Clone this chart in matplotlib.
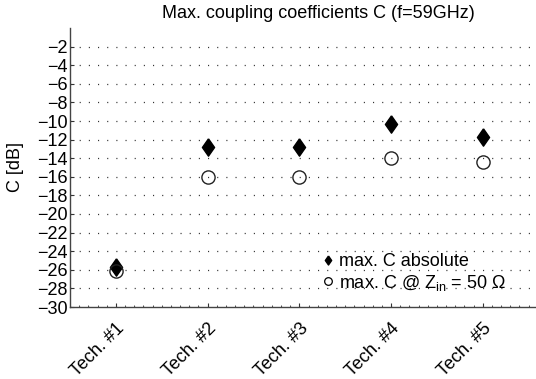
import matplotlib
matplotlib.use("Agg")
import matplotlib.pyplot as plt
from matplotlib.ticker import MultipleLocator
from matplotlib.lines import Line2D

plt.rcParams['font.family'] = ['Liberation Sans', 'DejaVu Sans']
plt.rcParams['mathtext.fontset'] = 'custom'
plt.rcParams['mathtext.rm'] = 'Liberation Sans'
plt.rcParams['mathtext.it'] = 'Liberation Sans'
plt.rcParams['lines.scale_dashes'] = False

categories = ["Tech. #1", "Tech. #2", "Tech. #3", "Tech. #4", "Tech. #5"]
c_absolute = [-25.7, -12.8, -12.8, -10.3, -11.7]
c_50ohm = [-26.1, -16.0, -16.0, -14.0, -14.4]
yticks = list(range(-30, -1, 2))

W, H = 536, 379
FS = 13
fig = plt.figure(figsize=(W / 100, H / 100), dpi=100)
ax_w = 1 - 70 / W
ax = fig.add_axes([70 / W, (H - 307) / H, ax_w, (307 - 28) / H])

x = list(range(1, len(categories) + 1))
diamond = [(0, 1), (0.7, 0), (0, -1), (-0.7, 0), (0, 1)]
ax.plot(x, c_absolute, linestyle='none', marker=diamond, markersize=12.5,
        color='black', zorder=3)
ax.plot(x, c_50ohm, linestyle='none', marker='o', markersize=9.5,
        markerfacecolor='none', markeredgecolor='#222222', markeredgewidth=1.0,
        zorder=3)

ax.set_xlim(0.5, 5.58)
ax.set_ylim(-30, 0)
ax.set_yticks(yticks)
ax.set_yticklabels([f"\u2212{abs(v)}" for v in yticks], fontsize=FS)
ax.set_xticks(x)
ax.set_xticklabels(categories, rotation=45, ha='right', rotation_mode='anchor',
                   fontsize=FS)
ax.xaxis.set_minor_locator(MultipleLocator(0.1))
ax.tick_params(axis='x', which='major', direction='in', length=3, width=0.8,
               pad=9, color='#333333')
ax.tick_params(axis='x', which='minor', direction='in', length=1.5, width=0.6,
               color='#333333')
ax.tick_params(axis='y', which='major', direction='in', length=3, width=0.8,
               pad=1.5, color='#333333')

ax.grid(True, axis='y', linestyle=(0, (0.8, 5.8)), linewidth=0.9, color='#333333')
ax.set_axisbelow(True)

for s in ['top', 'right']:
    ax.spines[s].set_visible(False)
for s in ['left', 'bottom']:
    ax.spines[s].set_linewidth(1.0)
    ax.spines[s].set_color('#444444')

ax.set_ylabel("C [dB]", fontsize=FS)
ax.yaxis.set_label_coords((24 - 70) / (ax_w * W), 0.5)

fig.text(318 / W, 1 - 13 / H, "Max. coupling coefficients C (f=59GHz)",
         ha='center', va='center', fontsize=FS)

handles = [
    Line2D([], [], linestyle='none', marker=diamond, markersize=6.5, color='black'),
    Line2D([], [], linestyle='none', marker='o', markersize=5.5,
           markerfacecolor='none', markeredgecolor='black', markeredgewidth=0.9),
]
labels = ["max. C absolute", r"max. C @ Z$_{\mathrm{in}}$ = 50 Ω"]
fig.legend(handles, labels, loc='upper left', bbox_to_anchor=(323 / W, 1 - 253 / H),
           frameon=False, fontsize=FS, handlelength=0.6, handletextpad=0.3,
           labelspacing=0.15, borderpad=0, borderaxespad=0)

fig.savefig("out.png", dpi=100)
